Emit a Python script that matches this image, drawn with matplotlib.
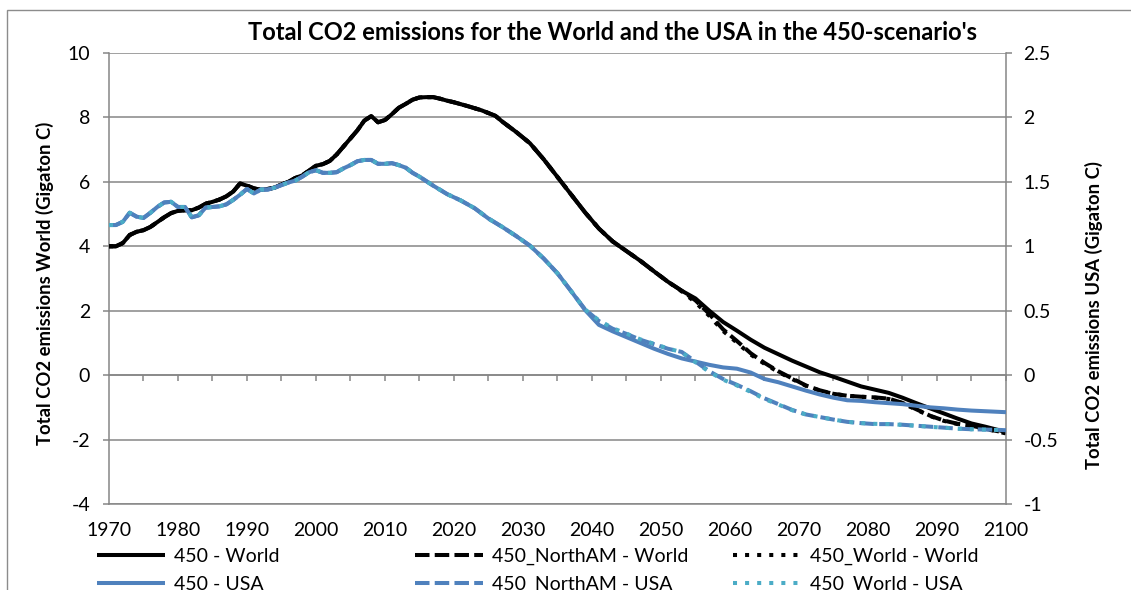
import numpy as np
import matplotlib
matplotlib.use("Agg")
import matplotlib.pyplot as plt
from matplotlib.patches import Rectangle

plt.rcParams['font.family'] = ['Lato', 'DejaVu Sans']

# ---------------- data ----------------
# World total CO2 emissions, 450 scenario (Gigaton C)
world_years = [1970, 1971, 1972, 1973, 1974, 1975, 1976, 1977, 1978, 1979,
               1980, 1981, 1982, 1983, 1984, 1985, 1986, 1987, 1988, 1989,
               1990, 1991, 1992, 1993, 1994, 1995, 1996, 1997, 1998, 1999,
               2000, 2001, 2002, 2003, 2004, 2005, 2006, 2007, 2008, 2009,
               2010, 2011, 2012, 2013, 2014, 2015, 2016, 2017, 2018, 2019,
               2020, 2022, 2024, 2026, 2027, 2029, 2031, 2033, 2035, 2037,
               2039, 2041, 2043, 2045, 2047, 2049, 2051, 2053, 2055, 2057,
               2059, 2061, 2063, 2065, 2067, 2069, 2071, 2073, 2075, 2077,
               2079, 2081, 2083, 2085, 2087, 2089, 2091, 2093, 2095, 2097,
               2099, 2100]
world_450 = [4.00, 4.00, 4.10, 4.35, 4.45, 4.50, 4.60, 4.75, 4.90, 5.03,
             5.10, 5.12, 5.12, 5.20, 5.32, 5.38, 5.45, 5.55, 5.70, 5.95,
             5.88, 5.80, 5.75, 5.78, 5.82, 5.92, 6.00, 6.12, 6.20, 6.35,
             6.50, 6.55, 6.65, 6.85, 7.10, 7.35, 7.60, 7.90, 8.04, 7.85,
             7.92, 8.10, 8.30, 8.42, 8.55, 8.62, 8.63, 8.63, 8.58, 8.52,
             8.47, 8.35, 8.22, 8.05, 7.87, 7.55, 7.20, 6.70, 6.15, 5.60,
             5.05, 4.55, 4.15, 3.85, 3.55, 3.22, 2.90, 2.62, 2.38, 2.00,
             1.65, 1.38, 1.10, 0.85, 0.65, 0.45, 0.27, 0.09, -0.05, -0.20,
             -0.35, -0.45, -0.55, -0.70, -0.87, -1.03, -1.19, -1.35, -1.50, -1.60,
             -1.71, -1.77]

# World emissions in the alternative scenarios (from where they split off)
world_alt_years = [2053, 2055, 2057, 2059, 2061, 2063, 2065, 2067, 2069, 2071,
                   2073, 2075, 2077, 2079, 2081, 2083, 2085, 2087, 2089, 2091,
                   2093, 2095, 2097, 2099, 2100]
world_northam = [2.62, 2.32, 1.90, 1.42, 1.06, 0.68, 0.38, 0.12, -0.10, -0.32,
                 -0.47, -0.58, -0.64, -0.67, -0.69, -0.73, -0.86, -1.06, -1.26, -1.41,
                 -1.51, -1.57, -1.66, -1.75, -1.80]
world_world = [2.60, 2.26, 1.84, 1.37, 1.01, 0.64, 0.35, 0.10, -0.12, -0.33,
               -0.48, -0.58, -0.64, -0.67, -0.70, -0.74, -0.87, -1.07, -1.27, -1.42,
               -1.52, -1.58, -1.67, -1.76, -1.81]

# USA total CO2 emissions, 450 scenario (Gigaton C)
usa_years = [1970, 1971, 1972, 1973, 1974, 1975, 1976, 1977, 1978, 1979,
             1980, 1981, 1982, 1983, 1984, 1985, 1986, 1987, 1988, 1989,
             1990, 1991, 1992, 1993, 1994, 1995, 1996, 1997, 1998, 1999,
             2000, 2001, 2002, 2003, 2004, 2005, 2006, 2007, 2008, 2009,
             2010, 2011, 2012, 2013, 2014, 2015, 2017, 2019, 2021, 2023,
             2025, 2027, 2029, 2031, 2033, 2035, 2037, 2039, 2041, 2043,
             2045, 2047, 2049, 2051, 2053, 2055, 2057, 2059, 2061, 2063,
             2065, 2067, 2069, 2071, 2073, 2075, 2077, 2079, 2081, 2083,
             2085, 2087, 2089, 2091, 2093, 2095, 2097, 2099, 2100]
usa_450 = [1.165, 1.165, 1.19, 1.26, 1.23, 1.22, 1.26, 1.305, 1.34, 1.345,
           1.305, 1.305, 1.225, 1.24, 1.30, 1.305, 1.31, 1.325, 1.36, 1.40,
           1.445, 1.41, 1.44, 1.44, 1.455, 1.475, 1.495, 1.51, 1.54, 1.575,
           1.59, 1.57, 1.57, 1.575, 1.605, 1.63, 1.66, 1.67, 1.67, 1.64,
           1.64, 1.645, 1.63, 1.61, 1.57, 1.54, 1.47, 1.405, 1.355, 1.295,
           1.215, 1.15, 1.08, 1.005, 0.905, 0.79, 0.65, 0.505, 0.39, 0.34,
           0.295, 0.25, 0.205, 0.165, 0.13, 0.105, 0.08, 0.06, 0.05, 0.02,
           -0.03, -0.055, -0.0875, -0.12, -0.15, -0.175, -0.195, -0.20, -0.21, -0.2175,
           -0.225, -0.2375, -0.25, -0.2575, -0.2675, -0.275, -0.28, -0.285, -0.2875]

# USA emissions in the alternative scenarios (from where they split off)
usa_alt_years = [2039, 2041, 2043, 2045, 2047, 2049, 2051, 2053, 2055, 2057,
                 2059, 2061, 2063, 2065, 2067, 2069, 2071, 2073, 2075, 2077,
                 2079, 2081, 2083, 2085, 2087, 2089, 2091, 2093, 2095, 2097,
                 2099, 2100]
usa_northam = [0.51, 0.42, 0.36, 0.32, 0.275, 0.24, 0.205, 0.18, 0.105, 0.03,
               -0.03, -0.075, -0.125, -0.18, -0.225, -0.27, -0.305, -0.325, -0.345, -0.3625,
               -0.3725, -0.38, -0.38, -0.385, -0.3925, -0.40, -0.4075, -0.415, -0.42, -0.4225,
               -0.425, -0.4275]
usa_world = [0.51, 0.425, 0.365, 0.322, 0.278, 0.243, 0.207, 0.178, 0.10, 0.025,
             -0.035, -0.08, -0.13, -0.185, -0.228, -0.272, -0.305, -0.325, -0.345, -0.362,
             -0.372, -0.378, -0.38, -0.386, -0.393, -0.401, -0.408, -0.415, -0.42, -0.423,
             -0.426, -0.428]

x_label_years = list(range(1970, 2101, 10))
x_minor_years = list(range(1975, 2101, 5))
left_ticks = [-4, -2, 0, 2, 4, 6, 8, 10]
right_ticks = [-1, -0.5, 0, 0.5, 1, 1.5, 2, 2.5]
right_tick_labels = ['-1', '-0.5', '0', '0.5', '1', '1.5', '2', '2.5']


def full_series(base_years, base_vals, tail_years, tail_vals):
    """Shared history of the base scenario followed by the scenario's own tail."""
    by = np.asarray(base_years)
    bv = np.asarray(base_vals)
    keep = by < tail_years[0]
    return (np.concatenate([by[keep], tail_years]),
            np.concatenate([bv[keep], tail_vals]))


# ---------------- styling ----------------
GRID = '#868686'
BLACK = '#000000'
BLUE = '#4F81BD'
TEAL = '#4BACC6'
LW = 2.9
DASH = (0, (3.6, 1.3))
DOT = (0, (1.0, 2.0))
FS = 14

W, H = 1131, 590
fig = plt.figure(figsize=(W / 100, H / 100), dpi=100)
ax = fig.add_axes([109 / W, 1 - 504 / H, (1006 - 109) / W, (504 - 53) / H])
ax2 = ax.twinx()

# World on the left axis
wy_na, wv_na = full_series(world_years, world_450, world_alt_years, world_northam)
wy_ww, wv_ww = full_series(world_years, world_450, world_alt_years, world_world)
h_w450, = ax.plot(world_years, world_450, color=BLACK, lw=LW, solid_capstyle='butt',
                  label='450 - World', zorder=3)
h_wna, = ax.plot(wy_na, wv_na, color=BLACK, lw=LW, linestyle=DASH,
                 label='450_NorthAM - World', zorder=3)
h_www, = ax.plot(wy_ww, wv_ww, color=BLACK, lw=LW, linestyle=DOT,
                 label='450_World - World', zorder=3)

# USA on the right axis
uy_na, uv_na = full_series(usa_years, usa_450, usa_alt_years, usa_northam)
uy_ww, uv_ww = full_series(usa_years, usa_450, usa_alt_years, usa_world)
h_u450, = ax2.plot(usa_years, usa_450, color=BLUE, lw=LW, solid_capstyle='butt',
                   label='450 - USA', zorder=3)
h_una, = ax2.plot(uy_na, uv_na, color=BLUE, lw=LW, linestyle=DASH,
                  label='450_NorthAM - USA', zorder=3)
h_uww, = ax2.plot(uy_ww, uv_ww, color=TEAL, lw=LW, linestyle=DOT,
                  label='450_World - USA', zorder=3)

# axes limits and ticks
ax.set_xlim(1970, 2100)
ax.set_ylim(-4, 10)
ax2.set_ylim(-1, 2.5)

ax.set_yticks(left_ticks)
ax.set_yticklabels([str(t) for t in left_ticks])
ax2.set_yticks(right_ticks)
ax2.set_yticklabels(right_tick_labels)

ax.set_xticks(x_label_years)
ax.set_xticklabels([str(y) for y in x_label_years])

ax.grid(axis='y', color=GRID, lw=1.1, zorder=1)
ax.set_axisbelow(True)

ax.tick_params(axis='x', length=0, pad=13, labelsize=FS)
ax.tick_params(axis='y', length=4.6, width=1.1, color=GRID, direction='out',
               pad=9, labelsize=FS)
ax2.tick_params(axis='y', length=4.6, width=1.1, color=GRID, direction='out',
                pad=8, labelsize=FS)

for a in (ax, ax2):
    for s in a.spines.values():
        s.set_color(GRID)
        s.set_linewidth(1.1)
    a.spines['top'].set_visible(False)
ax.spines['right'].set_visible(False)
ax2.spines['left'].set_visible(False)
ax2.spines['bottom'].set_visible(False)

# category axis crossing at zero, with minor tick marks
zero_frac = (0 - ax.get_ylim()[0]) / (ax.get_ylim()[1] - ax.get_ylim()[0])
sec = ax.secondary_xaxis(zero_frac)
sec.set_xticks(x_minor_years)
sec.tick_params(axis='x', length=4.6, width=1.1, color=GRID, direction='out',
                labelbottom=False, labeltop=False, bottom=True, top=False)
sec.spines['bottom'].set_color(GRID)
sec.spines['bottom'].set_linewidth(1.1)
sec.spines['top'].set_visible(False)

# axis titles
ax.set_ylabel('Total CO2 emissions World (Gigaton C)', fontsize=13.3, fontweight='bold')
ax.yaxis.set_label_coords(-0.061, 0.49)
ax2.set_ylabel('Total CO2 emissions USA (Gigaton C)', fontsize=13.3, fontweight='bold')
ax2.yaxis.set_label_coords(1.088, 0.42)

fig.text(612 / W, 1 - 33 / H,
         "Total CO2 emissions for the World and the USA in the 450-scenario's",
         ha='center', va='center', fontsize=17, fontweight='bold')

# legend: three columns, World on the first row and USA on the second
for hs, xl in (((h_w450, h_u450), 97), ((h_wna, h_una), 415), ((h_www, h_uww), 733)):
    fig.legend(handles=list(hs), labels=[h.get_label() for h in hs],
               loc='upper left', bbox_to_anchor=(xl / W, 1 - 548 / H),
               frameon=False, fontsize=FS, handlelength=3.5, handletextpad=0.45,
               labelspacing=0.55, borderpad=0, borderaxespad=0)

# chart-area border
fig.patches.append(Rectangle((7 / W, -0.2), 1.2, 1.2 - 10 / H,
                             transform=fig.transFigure, fill=False,
                             edgecolor='#8C8C8C', lw=1.0, clip_on=False))

fig.savefig('out.png', dpi=100)
